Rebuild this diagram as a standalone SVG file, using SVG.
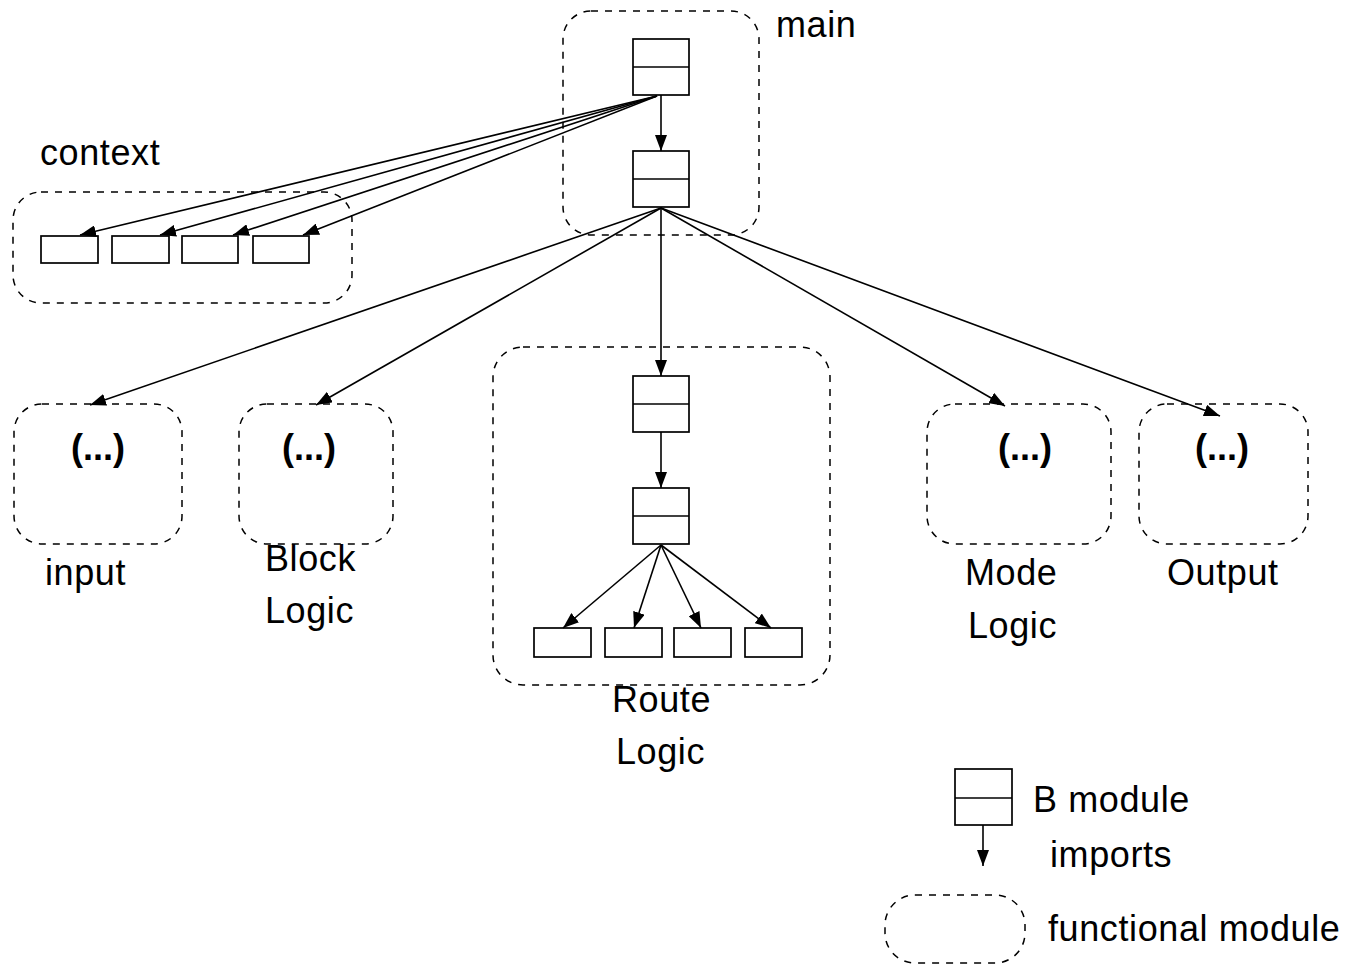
<svg xmlns="http://www.w3.org/2000/svg" width="1346" height="966" viewBox="0 0 1346 966">
<style>
.fm{fill:none;stroke:#000;stroke-width:1.5;stroke-dasharray:7 7}
.bx{fill:#fff;stroke:#000;stroke-width:1.7}
.ln{stroke:#000;stroke-width:1.6}
.ar{stroke:#000;stroke-width:1.6;fill:none;marker-end:url(#ah)}
text{font-family:"Liberation Sans",Arial,sans-serif;font-size:36px;fill:#000;letter-spacing:0.6px}
.dots{font-weight:bold;text-anchor:middle;letter-spacing:0}
</style>
<defs>
<marker id="ah" markerUnits="userSpaceOnUse" markerWidth="16" markerHeight="12" refX="16" refY="6" orient="auto">
<path d="M0,0 L16,6 L0,12 z" fill="#000"/>
</marker>
</defs>
<rect width="1346" height="966" fill="#fff"/>

<g id="main">
<rect class="fm" x="563" y="11" width="196" height="224" rx="28"/>
<rect class="bx" x="633" y="39" width="56" height="56"/>
<line class="ln" x1="633" y1="67" x2="689" y2="67"/>
<rect class="bx" x="633" y="151" width="56" height="56"/>
<line class="ln" x1="633" y1="179" x2="689" y2="179"/>
<text x="776" y="37">main</text>
</g>

<g id="context">
<rect class="fm" x="13" y="192" width="339" height="111" rx="28"/>
<rect class="bx" x="41" y="236" width="57" height="27"/>
<rect class="bx" x="112" y="236" width="57" height="27"/>
<rect class="bx" x="182" y="236" width="56" height="27"/>
<rect class="bx" x="253" y="236" width="56" height="27"/>
<text x="40" y="165">context</text>
</g>

<g id="input">
<rect class="fm" x="14" y="404" width="168" height="140" rx="28"/>
<text class="dots" x="98" y="460">(...)</text>
<text x="45" y="585">input</text>
</g>

<g id="blocklogic">
<rect class="fm" x="239" y="404" width="154" height="140" rx="28"/>
<text class="dots" x="309" y="460">(...)</text>
<text x="265" y="571">Block</text>
<text x="265" y="623">Logic</text>
</g>

<g id="routelogic">
<rect class="fm" x="493" y="347" width="337" height="338" rx="30"/>
<rect class="bx" x="633" y="376" width="56" height="56"/>
<line class="ln" x1="633" y1="404" x2="689" y2="404"/>
<rect class="bx" x="633" y="488" width="56" height="56"/>
<line class="ln" x1="633" y1="516" x2="689" y2="516"/>
<rect class="bx" x="534" y="628" width="57" height="29"/>
<rect class="bx" x="605" y="628" width="57" height="29"/>
<rect class="bx" x="674" y="628" width="57" height="29"/>
<rect class="bx" x="745" y="628" width="57" height="29"/>
<text x="612" y="712">Route</text>
<text x="616" y="764">Logic</text>
</g>

<g id="modelogic">
<rect class="fm" x="927" y="404" width="184" height="140" rx="28"/>
<text class="dots" x="1025" y="460">(...)</text>
<text x="965" y="585">Mode</text>
<text x="968" y="638">Logic</text>
</g>

<g id="output">
<rect class="fm" x="1139" y="404" width="169" height="140" rx="28"/>
<text class="dots" x="1222" y="460">(...)</text>
<text x="1167" y="585">Output</text>
</g>

<g id="legend">
<rect class="bx" x="955" y="769" width="57" height="56"/>
<line class="ln" x1="955" y1="798" x2="1012" y2="798"/>
<line class="ar" x1="983" y1="825" x2="983" y2="866"/>
<rect class="fm" x="885" y="895" width="140" height="68" rx="30"/>
<text x="1033" y="812">B module</text>
<text x="1050" y="867">imports</text>
<text x="1048" y="941">functional module</text>
</g>

<g id="connectors">
<line class="ar" x1="661" y1="95" x2="661" y2="151"/>
<line class="ar" x1="657" y1="96" x2="80" y2="235"/>
<line class="ar" x1="657" y1="96" x2="160" y2="235"/>
<line class="ar" x1="657" y1="96" x2="233" y2="235"/>
<line class="ar" x1="657" y1="96" x2="303" y2="235"/>
<line class="ar" x1="661" y1="208" x2="90" y2="405"/>
<line class="ar" x1="661" y1="208" x2="316" y2="405"/>
<line class="ar" x1="661" y1="207" x2="661" y2="376"/>
<line class="ar" x1="661" y1="208" x2="1005" y2="406"/>
<line class="ar" x1="661" y1="208" x2="1220" y2="416"/>
<line class="ar" x1="661" y1="432" x2="661" y2="488"/>
<line class="ar" x1="661" y1="545" x2="563" y2="628"/>
<line class="ar" x1="661" y1="545" x2="634" y2="628"/>
<line class="ar" x1="661" y1="545" x2="701" y2="628"/>
<line class="ar" x1="661" y1="545" x2="771" y2="628"/>
</g>
</svg>
